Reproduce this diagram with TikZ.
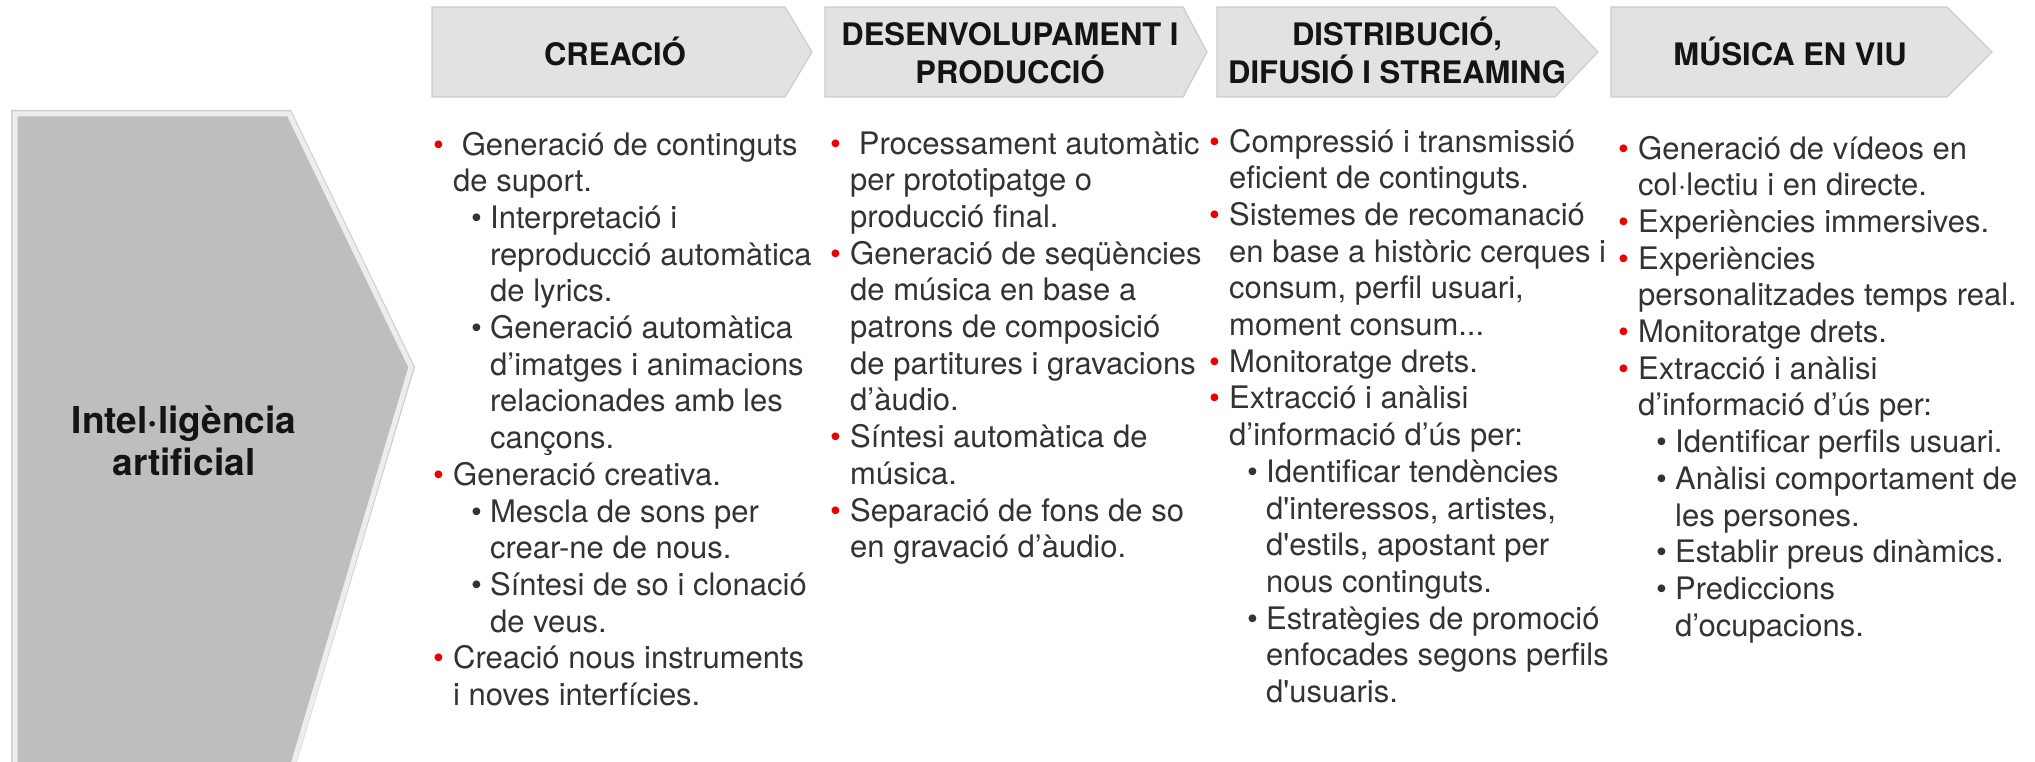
\documentclass[tikz,border=0pt]{standalone}
\usepackage{fontspec}
\setmainfont{TeX Gyre Heros}
\newfontfamily\bodyfamily[Ligatures=TeXOff]{TeX Gyre Heros}
\definecolor{hdrfill}{RGB}{226,226,226}
\definecolor{hdredge}{RGB}{205,205,205}
\definecolor{aifill}{RGB}{190,190,190}
\definecolor{aiedge}{RGB}{237,237,237}
\definecolor{aiout}{RGB}{205,205,205}
\definecolor{bulred}{RGB}{235,0,0}
\definecolor{txt}{RGB}{51,51,51}
\definecolor{hdrtxt}{RGB}{20,20,20}
\newcommand{\bulA}{\makebox[20pt][l]{\textcolor{bulred}{•}}}
\newcommand{\contA}{\hspace*{20pt}}
\newcommand{\bulB}{\hspace*{38pt}\makebox[19pt][l]{•}}
\newcommand{\contB}{\hspace*{57pt}}
\begin{document}
\begin{tikzpicture}[x=1pt,y=-1pt,
  hdrshape/.style={fill=hdrfill, draw=hdredge, line width=1.2pt},
  hdrtext/.style={font=\bfseries\fontsize{31}{38}\selectfont, text=hdrtxt, align=center, inner sep=0pt, anchor=base},
  aitext/.style={font=\bfseries\fontsize{37}{42}\selectfont, text=hdrtxt, align=center, inner sep=0pt, anchor=base},
  coltext/.style={font=\bodyfamily\fontsize{31}{36.7}\selectfont, text=txt, align=left, inner sep=0pt, anchor=base west}]
\useasboundingbox (0,0) rectangle (2035,762);
\fill[white] (0,0) rectangle (2035,762);
\clip (0,0) rectangle (2035,762);

% left big arrow
\fill[aiout] (11,110) -- (291,110) -- (415,367) -- (293,775) -- (11,775) -- cycle;
\draw[fill=aifill, draw=aiedge, line width=5pt] (15,114) -- (289,114) -- (411,367) -- (290,775) -- (15,775) -- cycle;
\node[aitext] (ai) at (184,475) {Intel·ligència\\artificial};

% header chevrons
\draw[hdrshape] (432,7) -- (785,7) -- (812,52) -- (785,97) -- (432,97) -- cycle;
\draw[hdrshape] (825,7) -- (1183,7) -- (1207,52) -- (1183,97) -- (825,97) -- cycle;
\draw[hdrshape] (1217,7) -- (1555,7) -- (1598,52) -- (1555,97) -- (1217,97) -- cycle;
\draw[hdrshape] (1611,7) -- (1947,7) -- (1992,52) -- (1947,97) -- (1611,97) -- cycle;
\node[hdrtext] (h1) at (615,66) {CREACIÓ};
\node[hdrtext] (h2) at (1010,84) {DESENVOLUPAMENT I\\PRODUCCIÓ};
\node[hdrtext] (h3) at (1397,84) {DISTRIBUCIÓ,\\DIFUSIÓ I STREAMING};
\node[hdrtext] (h4) at (1790,66) {MÚSICA EN VIU};

% columns (anchored at the baseline of their last line)
\node[coltext] (c1) at (433,705.5) {%
\bulA\ Generació de continguts\\
\contA de suport.\\
\bulB Interpretació i\\
\contB reproducció automàtica\\
\contB de lyrics.\\
\bulB Generació automàtica\\
\contB d’imatges i animacions\\
\contB relacionades amb les\\
\contB cançons.\\
\bulA Generació creativa.\\
\bulB Mescla de sons per\\
\contB crear-ne de nous.\\
\bulB Síntesi de so i clonació\\
\contB de veus.\\
\bulA Creació nous instruments\\
\contA i noves interfícies.};

\node[coltext] (c2) at (830,557.7) {%
\bulA\ Processament automàtic\\
\contA per prototipatge o\\
\contA producció final.\\
\bulA Generació de seqüències\\
\contA de música en base a\\
\contA patrons de composició\\
\contA de partitures i gravacions\\
\contA d’àudio.\\
\bulA Síntesi automàtica de\\
\contA música.\\
\bulA Separació de fons de so\\
\contA en gravació d’àudio.};

\node[coltext] (c3) at (1209,702.5) {%
\bulA Compressió i transmissió\\
\contA eficient de continguts.\\
\bulA Sistemes de recomanació\\
\contA en base a històric cerques i\\
\contA consum, perfil usuari,\\
\contA moment consum...\\
\bulA Monitoratge drets.\\
\bulA Extracció i anàlisi\\
\contA d’informació d’ús per:\\
\bulB Identificar tendències\\
\contB d'interessos, artistes,\\
\contB d'estils, apostant per\\
\contB nous continguts.\\
\bulB Estratègies de promoció\\
\contB enfocades segons perfils\\
\contB d'usuaris.};

\node[coltext] (c4) at (1618,636.1) {%
\bulA Generació de vídeos en\\
\contA col·lectiu i en directe.\\
\bulA Experiències immersives.\\
\bulA Experiències\\
\contA personalitzades temps real.\\
\bulA Monitoratge drets.\\
\bulA Extracció i anàlisi\\
\contA d’informació d’ús per:\\
\bulB Identificar perfils usuari.\\
\bulB Anàlisi comportament de\\
\contB les persones.\\
\bulB Establir preus dinàmics.\\
\bulB Prediccions\\
\contB d’ocupacions.};
\end{tikzpicture}
\end{document}
